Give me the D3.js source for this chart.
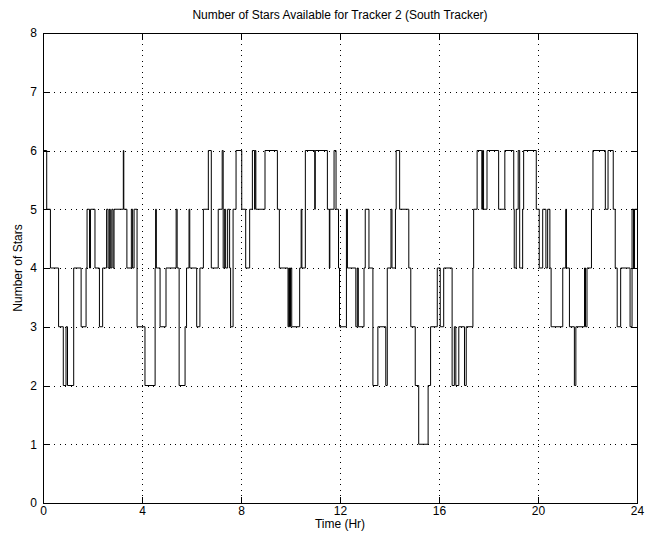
<!DOCTYPE html>
<html>
<head>
<meta charset="utf-8">
<script src="https://cdn.jsdelivr.net/npm/d3@7"></script>
<style>
  html, body { margin: 0; padding: 0; background: #fff; }
  svg { display: block; font-family: "Liberation Sans", Arial, Helvetica, sans-serif; }
</style>
</head>
<body>
<svg id="chart" width="659" height="545"></svg>
<script>
// Star count steps: each entry holds from its time until the next change.
const changeTimes = [
  0, 0.15, 0.30, 0.63, 0.82, 0.93, 0.99, 1.24, 1.54, 1.74, 1.78, 1.88, 1.92,
  2.10, 2.28, 2.41, 2.57, 2.63, 2.68, 2.72, 2.78, 2.83, 2.87, 3.245, 3.265, 3.39, 3.57, 3.62, 3.68, 3.80,
  4.12, 4.53, 4.55, 4.58, 4.73, 4.97, 5.38, 5.42, 5.50, 5.74, 5.80, 5.90, 5.93,
  6.21, 6.34, 6.48, 6.68, 6.80, 7.08, 7.24, 7.28, 7.34, 7.38, 7.46, 7.54, 7.58, 7.68, 7.80,
  8.03, 8.19, 8.35, 8.46, 8.55, 8.57, 8.60, 8.97, 9.47, 9.55, 9.90, 9.93, 9.96,
  10.00, 10.05, 10.37, 10.43, 10.46, 10.60, 10.98, 11.00, 11.49, 11.57, 11.59, 11.76, 11.84, 11.94, 11.98,
  12.26, 12.30, 12.64, 12.70, 12.74, 12.97, 13.02, 13.17, 13.33, 13.53, 13.85, 13.91,
  14.06, 14.10, 14.24, 14.27, 14.41, 14.78, 14.86, 15.04, 15.18, 15.56, 15.66, 15.93,
  16.05, 16.19, 16.53, 16.62, 16.68, 16.80, 17.03, 17.10, 17.37, 17.40, 17.54, 17.73, 17.76, 17.80, 17.94,
  18.41, 18.66, 19.02, 19.04, 19.12, 19.20, 19.26, 19.38, 19.42, 19.93,
  20.05, 20.19, 20.32, 20.39, 20.48, 20.53, 21.00, 21.12, 21.15, 21.27, 21.47, 21.53, 21.88, 21.92, 21.98,
  22.12, 22.16, 22.22, 22.72, 22.83, 23.04, 23.12, 23.20, 23.34, 23.72, 23.80, 23.86, 23.90, 24
];
const starCounts = [
  6, 5, 4, 3, 2, 3, 2, 4, 3, 4, 5, 4, 5,
  4, 3, 4, 5, 4, 5, 4, 5, 4, 5, 6, 5, 4, 5, 4, 5, 3,
  2, 4, 5, 4, 3, 4, 5, 4, 2, 3, 4, 5, 4,
  3, 4, 5, 6, 4, 5, 6, 4, 5, 4, 5, 4, 3, 5, 6,
  5, 4, 5, 6, 5, 6, 5, 6, 5, 4, 3, 4, 3,
  4, 3, 4, 5, 4, 6, 5, 6, 5, 4, 5, 6, 5, 4, 3,
  5, 4, 3, 4, 3, 4, 5, 4, 2, 3, 2, 4,
  5, 4, 5, 6, 5, 4, 3, 2, 1, 2, 3, 4,
  3, 4, 2, 3, 2, 3, 2, 3, 4, 5, 6, 5, 6, 5, 6,
  5, 6, 5, 4, 5, 6, 4, 5, 6, 5,
  4, 5, 4, 5, 4, 3, 4, 5, 4, 3, 2, 3, 4, 3, 4,
  4, 5, 6, 5, 6, 5, 4, 3, 4, 3, 5, 4, 5, 5
];
const xTicks = [0, 4, 8, 12, 16, 20, 24];
const yTicks = [0, 1, 2, 3, 4, 5, 6, 7, 8];

const titleText = "Number of Stars Available for Tracker 2 (South Tracker)";
const xLabel = "Time (Hr)";
const yLabel = "Number of Stars";

const svg = d3.select("#chart");
const margin = { left: 43, right: 22, top: 33, bottom: 42 };
const W = 659, H = 545;
const iw = W - margin.left - margin.right;
const ih = H - margin.top - margin.bottom;

const x = d3.scaleLinear().domain([0, 24]).range([margin.left, margin.left + iw]);
const y = d3.scaleLinear().domain([0, 8]).range([margin.top + ih, margin.top]);

const series = changeTimes.map((t, i) => ({ t, v: starCounts[i] }));

// dotted grid
const grid = svg.append("g").attr("stroke", "#000").attr("stroke-width", 1)
  .attr("stroke-dasharray", "1,4.5").attr("shape-rendering", "crispEdges");
grid.selectAll("line.gx").data(xTicks.slice(1, -1)).join("line")
  .attr("x1", d => Math.round(x(d)) + 0.5).attr("x2", d => Math.round(x(d)) + 0.5)
  .attr("y1", y(8)).attr("y2", y(0));
grid.selectAll("line.gy").data(yTicks.slice(1, -1)).join("line")
  .attr("y1", d => Math.round(y(d)) + 0.5).attr("y2", d => Math.round(y(d)) + 0.5)
  .attr("x1", x(0)).attr("x2", x(24));

// step trace
const line = d3.line().curve(d3.curveStepAfter).x(d => x(d.t)).y(d => y(d.v));
svg.append("path").datum(series)
  .attr("fill", "none").attr("stroke", "#000").attr("stroke-width", 1)
  .attr("d", line);

// axes: ticks pointing inward on all four sides
const tickLen = 6;
const axB = svg.append("g").attr("transform", `translate(0,${y(0)})`)
  .call(d3.axisBottom(x).tickValues(xTicks).tickSizeInner(-tickLen).tickSizeOuter(0).tickPadding(3));
const axT = svg.append("g").attr("transform", `translate(0,${y(8)})`)
  .call(d3.axisTop(x).tickValues(xTicks).tickSizeInner(-tickLen).tickSizeOuter(0).tickFormat(""));
const axL = svg.append("g").attr("transform", `translate(${x(0)},0)`)
  .call(d3.axisLeft(y).tickValues(yTicks).tickSizeInner(-tickLen).tickSizeOuter(0).tickPadding(6));
const axR = svg.append("g").attr("transform", `translate(${x(24)},0)`)
  .call(d3.axisRight(y).tickValues(yTicks).tickSizeInner(-tickLen).tickSizeOuter(0).tickFormat(""));
[axB, axT, axL, axR].forEach(a => {
  a.select(".domain").remove();
  a.selectAll("line").attr("stroke", "#000").attr("shape-rendering", "crispEdges");
  a.selectAll("text").attr("font-size", 12).attr("fill", "#000")
    .attr("font-family", "'Liberation Sans', Arial, sans-serif");
});

// frame
svg.append("rect")
  .attr("x", x(0) + 0.5).attr("y", y(8) + 0.5)
  .attr("width", iw).attr("height", ih)
  .attr("fill", "none").attr("stroke", "#000").attr("stroke-width", 1)
  .attr("shape-rendering", "crispEdges");

// labels
svg.append("text").attr("x", x(12)).attr("y", 19).attr("text-anchor", "middle")
  .attr("font-size", 12).text(titleText);
svg.append("text").attr("x", x(12)).attr("y", 528).attr("text-anchor", "middle")
  .attr("font-size", 12).text(xLabel);
svg.append("text").attr("transform", `translate(22,${y(4)}) rotate(-90)`)
  .attr("text-anchor", "middle").attr("font-size", 12).text(yLabel);
</script>
</body>
</html>
